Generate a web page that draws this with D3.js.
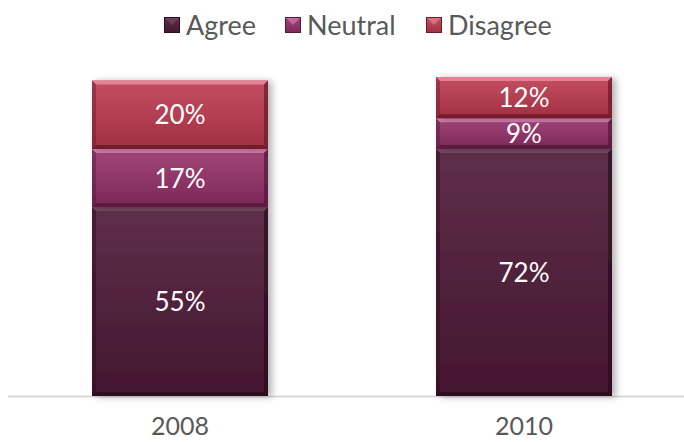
<!DOCTYPE html>
<html>
<head>
<meta charset="utf-8">
<script src="https://cdn.jsdelivr.net/npm/d3@7"></script>
<style>
  body { margin: 0; background: #fff; }
  svg { display: block; font-family: "Gill Sans", Lato, "Open Sans", sans-serif; }
</style>
</head>
<body>
<div id="vis"></div>
<script>
var years    = ["2008", "2010"];
var series   = ["Agree", "Neutral", "Disagree"];
var agree    = [0.55, 0.72];
var neutral  = [0.17, 0.09];
var disagree = [0.20, 0.12];

var width  = 684;
var height = 442;
var bevel  = 4;

// colours per series: [top, bottom, light edge, dark edge]
var colours = {
  Agree:    ["#5e2f4a", "#44162f", "#7a4d66", "#2e0c1f"],
  Neutral:  ["#a2467a", "#7b2757", "#d884b4", "#561a3c"],
  Disagree: ["#c54e62", "#a12f42", "#e5889a", "#6e1b29"]
};

var rows = years.map(function(y, i) {
  return { year: y, Agree: agree[i], Neutral: neutral[i], Disagree: disagree[i] };
});
var stacked = d3.stack().keys(series)(rows);

var x = d3.scalePoint().domain(years).range([180, 524]);
var barW = 176;
var y = d3.scaleLinear().domain([0, 1]).range([396, 53]);

var svg = d3.select("#vis").append("svg")
  .attr("width", width)
  .attr("height", height);

var defs = svg.append("defs");
series.forEach(function(s) {
  var g = defs.append("linearGradient")
    .attr("id", "grad-" + s)
    .attr("x1", 0).attr("y1", 0).attr("x2", 0).attr("y2", 1);
  g.append("stop").attr("offset", "0%").attr("stop-color", colours[s][0]);
  g.append("stop").attr("offset", "100%").attr("stop-color", colours[s][1]);
});
var shadow = defs.append("filter").attr("id", "shadow")
  .attr("x", "-20%").attr("y", "-20%").attr("width", "140%").attr("height", "140%");
shadow.append("feGaussianBlur").attr("in", "SourceAlpha").attr("stdDeviation", 3.5);
shadow.append("feOffset").attr("dx", 4).attr("dy", 1).attr("result", "b");
shadow.append("feComponentTransfer").append("feFuncA").attr("type", "linear").attr("slope", 0.3);
var merge = shadow.append("feMerge");
merge.append("feMergeNode");
merge.append("feMergeNode").attr("in", "SourceGraphic");

// axis line
svg.append("line")
  .attr("x1", 8).attr("x2", width)
  .attr("y1", y(0) + 0.5).attr("y2", y(0) + 0.5)
  .attr("stroke", "#d9d9d9").attr("stroke-width", 2);

// bars
stacked.forEach(function(layer) {
  var s = layer.key;
  var c = colours[s];
  var g = svg.append("g");
  layer.forEach(function(d) {
    var x0 = x(d.data.year) - barW / 2, x1 = x0 + barW;
    var y0 = y(d[1]), y1 = y(d[0]);
    var cell = g.append("g").attr("filter", "url(#shadow)");
    cell.append("rect")
      .attr("x", x0).attr("y", y0)
      .attr("width", barW).attr("height", y1 - y0)
      .attr("fill", "url(#grad-" + s + ")");
    var b = bevel;
    function poly(pts, fill, op) {
      cell.append("polygon")
        .attr("points", pts.map(function(p) { return p.join(","); }).join(" "))
        .attr("fill", fill).attr("opacity", op);
    }
    poly([[x0, y0], [x1, y0], [x1 - b, y0 + b], [x0 + b, y0 + b]], c[2], 0.9);
    poly([[x0, y1], [x1, y1], [x1 - b, y1 - b], [x0 + b, y1 - b]], c[3], 0.9);
    poly([[x0, y0], [x0 + b, y0 + b], [x0 + b, y1 - b], [x0, y1]], c[3], 0.45);
    poly([[x1, y0], [x1 - b, y0 + b], [x1 - b, y1 - b], [x1, y1]], c[3], 0.75);

    svg.append("text")
      .attr("x", x(d.data.year))
      .attr("y", (y0 + y1) / 2)
      .attr("dy", "0.36em")
      .attr("text-anchor", "middle")
      .attr("fill", "#ffffff")
      .style("font-size", "26px")
      .text(Math.round((d[1] - d[0]) * 100) + "%");
  });
});

// category labels
svg.append("g").selectAll("text")
  .data(years)
  .enter().append("text")
  .attr("x", function(d) { return x(d); })
  .attr("y", 435)
  .attr("text-anchor", "middle")
  .attr("fill", "#595959")
  .style("font-size", "25px")
  .text(function(d) { return d; });

// legend
var legendX = [164, 285, 426];
var legend = svg.append("g");
series.forEach(function(s, i) {
  var c = colours[s];
  var lx = legendX[i], ly = 17, sz = 16;
  legend.append("rect")
    .attr("x", lx).attr("y", ly).attr("width", sz).attr("height", sz)
    .attr("fill", "url(#grad-" + s + ")");
  legend.append("polygon")
    .attr("points", [[lx, ly], [lx + sz, ly], [lx + sz / 2, ly + sz / 2]].map(function(p) { return p.join(","); }).join(" "))
    .attr("fill", c[2]).attr("opacity", 0.6);
  legend.append("rect")
    .attr("x", lx + 0.5).attr("y", ly + 0.5).attr("width", sz - 1).attr("height", sz - 1)
    .attr("fill", "none").attr("stroke", c[3]).attr("stroke-width", 1);
  legend.append("text")
    .attr("x", lx + sz + 6)
    .attr("y", ly + sz / 2)
    .attr("dy", "0.36em")
    .attr("fill", "#595959")
    .style("font-size", "27px")
    .text(s);
});
</script>
</body>
</html>
